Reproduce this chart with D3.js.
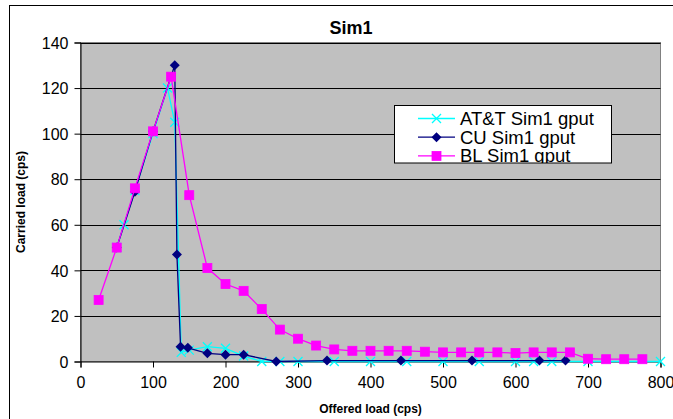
<!DOCTYPE html>
<html>
<head>
<meta charset="utf-8">
<script src="https://cdn.jsdelivr.net/npm/d3@7"></script>
<style>
  html, body { margin: 0; padding: 0; background: #fff; }
  svg { display: block; font-family: "Liberation Sans", Arial, sans-serif; }
</style>
</head>
<body>
<svg id="chart" width="673" height="419"></svg>
<script>
// Offered load (cps) vs carried load (cps) for the three Sim1 runs
const attX = [50, 60, 75, 100, 120, 130, 139, 150, 175, 200, 225, 250, 275, 300, 350, 400, 450, 500, 550, 600, 625, 650, 700, 800];
const attY = [50, 60, 75, 100, 120, 105, 4, 5, 6.5, 5.8, 2.4, 0, 0, 0, 0, 0, 0, 0, 0, 0, 0, 0, 0, 0];

const cuX = [50, 75, 100, 130, 133, 138, 148, 175, 200, 225, 270, 340, 442, 540, 633, 669];
const cuY = [50, 74.5, 101, 130, 47, 6.5, 6, 3.6, 3, 3, 0, 0.4, 0.4, 0.4, 0.4, 0.4];

const blX = [25, 50, 75, 100, 125, 150, 175, 200, 225, 250, 275, 300, 325, 350, 375, 400, 425, 450, 475, 500, 525, 550, 575, 600, 625, 650, 675, 700, 725, 750, 775];
const blY = [27, 50, 76, 101, 125, 73, 41, 34, 31, 23, 14, 10, 7, 5.3, 4.7, 4.7, 4.7, 4.7, 4.3, 4, 4, 4, 4, 3.7, 4, 4, 4, 1.2, 1, 1, 1];

const seriesNames = ["AT&T Sim1 gput", "CU Sim1 gput", "BL Sim1 gput"];
const xTicks = [0, 100, 200, 300, 400, 500, 600, 700, 800];
const yTicks = [0, 20, 40, 60, 80, 100, 120, 140];

const series = [
  { name: seriesNames[0], xs: attX, ys: attY, color: "#00FFFF", marker: "x" },
  { name: seriesNames[1], xs: cuX, ys: cuY, color: "#000080", marker: "diamond" },
  { name: seriesNames[2], xs: blX, ys: blY, color: "#FF00FF", marker: "square" }
];

const FONT = "'Liberation Sans', Arial, sans-serif";
const svg = d3.select("#chart");
const plot = { left: 80.5, right: 660.5, top: 42.5, bottom: 361.5 };

const x = d3.scaleLinear().domain([0, 800]).range([plot.left, plot.right]);
const y = d3.scaleLinear().domain([0, 140]).range([plot.bottom, plot.top]);

// outer chart frame
svg.append("rect")
  .attr("x", 9.5).attr("y", 5.5).attr("width", 700).attr("height", 430)
  .attr("fill", "none").attr("stroke", "#000").attr("stroke-width", 1);

// plot background
svg.append("rect")
  .attr("x", plot.left).attr("y", plot.top)
  .attr("width", plot.right - plot.left).attr("height", plot.bottom - plot.top)
  .attr("fill", "#C0C0C0").attr("stroke", "#808080").attr("stroke-width", 1);

// horizontal gridlines
svg.append("g").selectAll("line")
  .data(yTicks.filter(t => t > 0))
  .join("line")
  .attr("x1", plot.left).attr("x2", plot.right)
  .attr("y1", d => Math.round(y(d)) + 0.5).attr("y2", d => Math.round(y(d)) + 0.5)
  .attr("stroke", "#000").attr("stroke-width", 1);

// axes
const yAxis = svg.append("g")
  .attr("transform", `translate(${plot.left},0)`)
  .call(d3.axisLeft(y).tickValues(yTicks).tickSize(6).tickPadding(6).tickFormat(d3.format("d")));
const xAxis = svg.append("g")
  .attr("transform", `translate(0,${plot.bottom})`)
  .call(d3.axisBottom(x).tickValues(xTicks).tickSize(6).tickPadding(6).tickFormat(d3.format("d")));

[xAxis, yAxis].forEach(a => {
  a.select(".domain").attr("stroke", "#000");
  a.selectAll(".tick line").attr("stroke", "#000");
  a.selectAll(".tick text").attr("fill", "#000").style("font-size", "16px")
    .style("font-family", FONT);
});
yAxis.selectAll(".tick text").attr("dy", "0.36em");
xAxis.selectAll(".tick text").attr("dy", "0.9em");

// markers
function drawMarker(g, type, color) {
  if (type === "square") {
    g.append("rect").attr("x", -4.5).attr("y", -4.5).attr("width", 9).attr("height", 9)
      .attr("fill", color).attr("stroke", color).attr("stroke-width", 0.8);
  } else if (type === "diamond") {
    g.append("path").attr("d", "M0,-5L5,0L0,5L-5,0Z").attr("fill", color);
  } else {
    g.append("path").attr("d", "M-4.5,-4.5L4.5,4.5M-4.5,4.5L4.5,-4.5")
      .attr("stroke", color).attr("stroke-width", 1.3).attr("fill", "none");
  }
}

const line = d3.line().x(d => x(d[0])).y(d => y(d[1]));

series.forEach(s => {
  const pts = s.xs.map((v, i) => [v, s.ys[i]]);
  svg.append("path")
    .datum(pts)
    .attr("d", line)
    .attr("fill", "none")
    .attr("stroke", s.color)
    .attr("stroke-width", 1.3);
  const mg = svg.append("g");
  pts.forEach(p => {
    const g = mg.append("g").attr("transform", `translate(${x(p[0])},${y(p[1])})`);
    drawMarker(g, s.marker, s.color);
  });
});

// title
svg.append("text")
  .attr("x", 351).attr("y", 34)
  .attr("text-anchor", "middle")
  .style("font-family", FONT)
  .style("font-size", "18px").style("font-weight", "bold")
  .text("Sim1");

// axis titles
svg.append("text")
  .attr("x", (plot.left + plot.right) / 2).attr("y", 413)
  .attr("text-anchor", "middle")
  .style("font-family", FONT)
  .style("font-size", "12px").style("font-weight", "bold")
  .text("Offered load (cps)");
svg.append("text")
  .attr("transform", `translate(25,${(plot.top + plot.bottom) / 2}) rotate(-90)`)
  .attr("text-anchor", "middle")
  .style("font-family", FONT)
  .style("font-size", "12px").style("font-weight", "bold")
  .text("Carried load (cps)");

// legend box; entries are clipped to the box
const legendBox = { x: 394.5, y: 105.5, w: 217, h: 57.5 };
svg.append("clipPath").attr("id", "legend-clip")
  .append("rect")
  .attr("x", legendBox.x).attr("y", legendBox.y)
  .attr("width", legendBox.w).attr("height", legendBox.h);

const legend = svg.append("g");
legend.append("rect")
  .attr("x", legendBox.x).attr("y", legendBox.y).attr("width", legendBox.w).attr("height", legendBox.h)
  .attr("fill", "#fff");
const entries = legend.append("g").attr("clip-path", "url(#legend-clip)");
series.forEach((s, i) => {
  const ly = 118.5 + i * 18.7;
  entries.append("line")
    .attr("x1", 418).attr("x2", 455).attr("y1", ly).attr("y2", ly)
    .attr("stroke", s.color).attr("stroke-width", 1.3);
  const g = entries.append("g").attr("transform", `translate(436.5,${ly})`);
  drawMarker(g, s.marker, s.color);
  entries.append("text")
    .attr("x", 460).attr("y", ly + 6.3)
    .style("font-family", FONT)
    .style("font-size", "18.5px")
    .text(s.name);
});
legend.append("rect")
  .attr("x", legendBox.x).attr("y", legendBox.y).attr("width", legendBox.w).attr("height", legendBox.h)
  .attr("fill", "none").attr("stroke", "#000").attr("stroke-width", 1);
</script>
</body>
</html>
